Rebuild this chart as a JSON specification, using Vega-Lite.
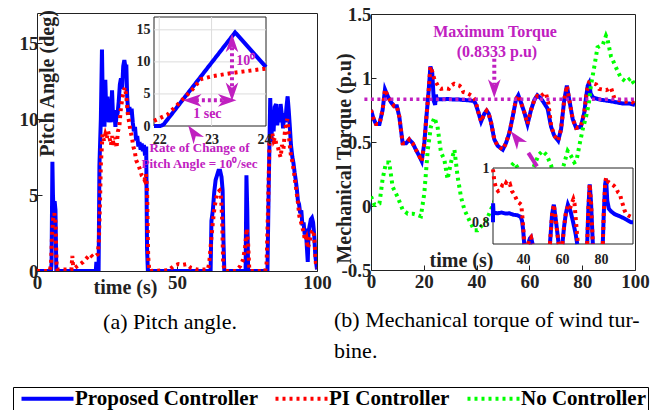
{
"$schema": "https://vega.github.io/schema/vega-lite/v6.json",
"padding": {"left": 12, "top": 4, "right": 5, "bottom": 0},
"config": {
  "font": "Liberation Serif",
  "view": {"stroke": "#222", "strokeWidth": 1},
  "axis": {"labelFont": "Liberation Serif", "labelFontWeight": "bold", "labelFontSize": 19, "labelColor": "#222", "titleFont": "Liberation Serif", "titleFontWeight": "bold", "titleFontSize": 20, "titleColor": "#222", "grid": false, "domain": false, "tickColor": "#222", "tickSize": -5, "labelFlush": false, "labelOverlap": false},
  "legend": {"orient": "none", "legendX": -24, "legendY": 374, "direction": "horizontal", "symbolType": "M-5.2,0H5.2", "symbolSize": 100, "symbolStrokeWidth": 4, "symbolOffset": 23, "labelOffset": 17, "labelFont": "Liberation Serif", "labelFontWeight": "bold", "labelFontSize": 21, "labelColor": "black", "labelLimit": 400, "strokeColor": "black", "fillColor": "white", "padding": 1, "columnPadding": 9},
  "title": {"font": "Liberation Serif", "fontSize": 22, "fontWeight": "normal", "color": "black"}
},
"datasets": {
  "pitch": [
    {"t":0,"v":0,"s":"Proposed Controller"},{"t":5,"v":0,"s":"Proposed Controller"},{"t":5.2,"v":0.5,"s":"Proposed Controller"},{"t":5.5,"v":7.2,"s":"Proposed Controller"},{"t":5.7,"v":5,"s":"Proposed Controller"},{"t":6,"v":3.5,"s":"Proposed Controller"},{"t":6.3,"v":4.6,"s":"Proposed Controller"},{"t":6.6,"v":4,"s":"Proposed Controller"},{"t":6.9,"v":0,"s":"Proposed Controller"},{"t":21,"v":0,"s":"Proposed Controller"},{"t":21.2,"v":0.6,"s":"Proposed Controller"},{"t":21.4,"v":0,"s":"Proposed Controller"},{"t":22,"v":0,"s":"Proposed Controller"},{"t":22.3,"v":7,"s":"Proposed Controller"},{"t":22.8,"v":10,"s":"Proposed Controller"},{"t":23.2,"v":14.6,"s":"Proposed Controller"},{"t":23.5,"v":11,"s":"Proposed Controller"},{"t":23.8,"v":12.5,"s":"Proposed Controller"},{"t":24.1,"v":9.5,"s":"Proposed Controller"},{"t":24.4,"v":12.6,"s":"Proposed Controller"},{"t":24.8,"v":10,"s":"Proposed Controller"},{"t":25.2,"v":11.5,"s":"Proposed Controller"},{"t":25.6,"v":9.8,"s":"Proposed Controller"},{"t":26,"v":10.5,"s":"Proposed Controller"},{"t":26.4,"v":9.8,"s":"Proposed Controller"},{"t":26.8,"v":11.9,"s":"Proposed Controller"},{"t":27.2,"v":10,"s":"Proposed Controller"},{"t":27.6,"v":10.6,"s":"Proposed Controller"},{"t":28,"v":9.5,"s":"Proposed Controller"},{"t":28.4,"v":10.2,"s":"Proposed Controller"},{"t":28.8,"v":10.4,"s":"Proposed Controller"},{"t":29.2,"v":11.2,"s":"Proposed Controller"},{"t":29.6,"v":12.3,"s":"Proposed Controller"},{"t":30,"v":12.7,"s":"Proposed Controller"},{"t":30.4,"v":12,"s":"Proposed Controller"},{"t":30.8,"v":13.5,"s":"Proposed Controller"},{"t":31.2,"v":13.9,"s":"Proposed Controller"},{"t":31.6,"v":13.4,"s":"Proposed Controller"},{"t":31.9,"v":13.6,"s":"Proposed Controller"},{"t":32.2,"v":11.5,"s":"Proposed Controller"},{"t":32.6,"v":10.4,"s":"Proposed Controller"},{"t":33,"v":10.8,"s":"Proposed Controller"},{"t":33.4,"v":10.3,"s":"Proposed Controller"},{"t":33.8,"v":10.7,"s":"Proposed Controller"},{"t":34.2,"v":9.8,"s":"Proposed Controller"},{"t":34.6,"v":9.2,"s":"Proposed Controller"},{"t":35,"v":9.5,"s":"Proposed Controller"},{"t":35.4,"v":8.6,"s":"Proposed Controller"},{"t":35.8,"v":8.9,"s":"Proposed Controller"},{"t":36.2,"v":8.2,"s":"Proposed Controller"},{"t":36.6,"v":8.5,"s":"Proposed Controller"},{"t":37,"v":8,"s":"Proposed Controller"},{"t":37.4,"v":8.4,"s":"Proposed Controller"},{"t":37.8,"v":7.9,"s":"Proposed Controller"},{"t":38.2,"v":8.3,"s":"Proposed Controller"},{"t":38.6,"v":7.6,"s":"Proposed Controller"},{"t":39,"v":8.2,"s":"Proposed Controller"},{"t":39.3,"v":1.5,"s":"Proposed Controller"},{"t":39.6,"v":0,"s":"Proposed Controller"},{"t":62,"v":0,"s":"Proposed Controller"},{"t":62.3,"v":3.3,"s":"Proposed Controller"},{"t":62.8,"v":4,"s":"Proposed Controller"},{"t":63.3,"v":5.2,"s":"Proposed Controller"},{"t":63.8,"v":6,"s":"Proposed Controller"},{"t":64.3,"v":6.3,"s":"Proposed Controller"},{"t":64.8,"v":6.6,"s":"Proposed Controller"},{"t":65.4,"v":6.6,"s":"Proposed Controller"},{"t":65.9,"v":6.2,"s":"Proposed Controller"},{"t":66.3,"v":5.3,"s":"Proposed Controller"},{"t":66.6,"v":2,"s":"Proposed Controller"},{"t":66.9,"v":0,"s":"Proposed Controller"},{"t":74.5,"v":0,"s":"Proposed Controller"},{"t":74.8,"v":6.3,"s":"Proposed Controller"},{"t":75.1,"v":4,"s":"Proposed Controller"},{"t":75.4,"v":0,"s":"Proposed Controller"},{"t":82.3,"v":0,"s":"Proposed Controller"},{"t":82.8,"v":6,"s":"Proposed Controller"},{"t":83.3,"v":11.4,"s":"Proposed Controller"},{"t":83.7,"v":8.5,"s":"Proposed Controller"},{"t":84.1,"v":10.5,"s":"Proposed Controller"},{"t":84.5,"v":9.2,"s":"Proposed Controller"},{"t":84.9,"v":10.8,"s":"Proposed Controller"},{"t":85.4,"v":11,"s":"Proposed Controller"},{"t":85.8,"v":9.6,"s":"Proposed Controller"},{"t":86.2,"v":10.3,"s":"Proposed Controller"},{"t":86.6,"v":9.8,"s":"Proposed Controller"},{"t":87,"v":11,"s":"Proposed Controller"},{"t":87.5,"v":10.2,"s":"Proposed Controller"},{"t":87.9,"v":9.4,"s":"Proposed Controller"},{"t":88.3,"v":10.4,"s":"Proposed Controller"},{"t":88.7,"v":9.8,"s":"Proposed Controller"},{"t":89.1,"v":10.8,"s":"Proposed Controller"},{"t":89.5,"v":11.5,"s":"Proposed Controller"},{"t":89.9,"v":10.6,"s":"Proposed Controller"},{"t":90.3,"v":9.5,"s":"Proposed Controller"},{"t":90.7,"v":8.3,"s":"Proposed Controller"},{"t":91.2,"v":7.5,"s":"Proposed Controller"},{"t":91.6,"v":7.1,"s":"Proposed Controller"},{"t":92,"v":6.5,"s":"Proposed Controller"},{"t":92.4,"v":6,"s":"Proposed Controller"},{"t":92.8,"v":5.4,"s":"Proposed Controller"},{"t":93.2,"v":4.6,"s":"Proposed Controller"},{"t":93.6,"v":4.4,"s":"Proposed Controller"},{"t":94,"v":3.8,"s":"Proposed Controller"},{"t":94.4,"v":4,"s":"Proposed Controller"},{"t":94.8,"v":3,"s":"Proposed Controller"},{"t":95.2,"v":3.2,"s":"Proposed Controller"},{"t":95.6,"v":2.4,"s":"Proposed Controller"},{"t":96,"v":2.8,"s":"Proposed Controller"},{"t":96.4,"v":1.5,"s":"Proposed Controller"},{"t":96.7,"v":0.6,"s":"Proposed Controller"},{"t":97,"v":2.6,"s":"Proposed Controller"},{"t":97.4,"v":3,"s":"Proposed Controller"},{"t":97.8,"v":3.4,"s":"Proposed Controller"},{"t":98.2,"v":3.5,"s":"Proposed Controller"},{"t":98.6,"v":3.2,"s":"Proposed Controller"},{"t":99,"v":2.4,"s":"Proposed Controller"},{"t":99.4,"v":1,"s":"Proposed Controller"},{"t":100,"v":0.1,"s":"Proposed Controller"},
    {"t":0,"v":0,"s":"PI Controller"},{"t":4.5,"v":0,"s":"PI Controller"},{"t":5,"v":0.4,"s":"PI Controller"},{"t":5.4,"v":2.5,"s":"PI Controller"},{"t":5.8,"v":3.5,"s":"PI Controller"},{"t":6.2,"v":3.8,"s":"PI Controller"},{"t":6.6,"v":3.2,"s":"PI Controller"},{"t":7,"v":0.5,"s":"PI Controller"},{"t":7.3,"v":0.1,"s":"PI Controller"},{"t":12.3,"v":0.1,"s":"PI Controller"},{"t":12.6,"v":1,"s":"PI Controller"},{"t":12.9,"v":0.3,"s":"PI Controller"},{"t":13.5,"v":0.2,"s":"PI Controller"},{"t":15,"v":0.4,"s":"PI Controller"},{"t":16.5,"v":0.6,"s":"PI Controller"},{"t":18,"v":0.9,"s":"PI Controller"},{"t":19,"v":1.1,"s":"PI Controller"},{"t":20,"v":0.9,"s":"PI Controller"},{"t":21,"v":1,"s":"PI Controller"},{"t":21.7,"v":1.1,"s":"PI Controller"},{"t":22.1,"v":2,"s":"PI Controller"},{"t":22.5,"v":4.5,"s":"PI Controller"},{"t":22.8,"v":7,"s":"PI Controller"},{"t":23.4,"v":9,"s":"PI Controller"},{"t":23.9,"v":8.6,"s":"PI Controller"},{"t":24.4,"v":9,"s":"PI Controller"},{"t":24.9,"v":8.7,"s":"PI Controller"},{"t":25.4,"v":9.2,"s":"PI Controller"},{"t":25.9,"v":8.8,"s":"PI Controller"},{"t":26.4,"v":8.3,"s":"PI Controller"},{"t":26.9,"v":8.9,"s":"PI Controller"},{"t":27.4,"v":8.2,"s":"PI Controller"},{"t":27.9,"v":8.8,"s":"PI Controller"},{"t":28.4,"v":8.1,"s":"PI Controller"},{"t":28.9,"v":9.2,"s":"PI Controller"},{"t":29.4,"v":9.5,"s":"PI Controller"},{"t":29.9,"v":10.6,"s":"PI Controller"},{"t":30.4,"v":11.3,"s":"PI Controller"},{"t":30.9,"v":11.8,"s":"PI Controller"},{"t":31.4,"v":12.1,"s":"PI Controller"},{"t":31.9,"v":11.5,"s":"PI Controller"},{"t":32.4,"v":10.4,"s":"PI Controller"},{"t":32.9,"v":9.8,"s":"PI Controller"},{"t":33.4,"v":9.2,"s":"PI Controller"},{"t":33.9,"v":8.8,"s":"PI Controller"},{"t":34.4,"v":8.2,"s":"PI Controller"},{"t":34.9,"v":7.9,"s":"PI Controller"},{"t":35.4,"v":7.3,"s":"PI Controller"},{"t":35.9,"v":7.1,"s":"PI Controller"},{"t":36.4,"v":6.9,"s":"PI Controller"},{"t":36.9,"v":6.6,"s":"PI Controller"},{"t":37.4,"v":6.3,"s":"PI Controller"},{"t":37.9,"v":6.2,"s":"PI Controller"},{"t":38.4,"v":6,"s":"PI Controller"},{"t":38.9,"v":6.4,"s":"PI Controller"},{"t":39.3,"v":5.5,"s":"PI Controller"},{"t":39.7,"v":1,"s":"PI Controller"},{"t":40.1,"v":0,"s":"PI Controller"},{"t":47,"v":0.05,"s":"PI Controller"},{"t":49,"v":0.35,"s":"PI Controller"},{"t":50.5,"v":0.45,"s":"PI Controller"},{"t":52,"v":0.4,"s":"PI Controller"},{"t":53.5,"v":0.45,"s":"PI Controller"},{"t":55,"v":0.2,"s":"PI Controller"},{"t":57,"v":0.1,"s":"PI Controller"},{"t":61,"v":0.1,"s":"PI Controller"},{"t":61.5,"v":0.5,"s":"PI Controller"},{"t":62.2,"v":2,"s":"PI Controller"},{"t":62.8,"v":3.2,"s":"PI Controller"},{"t":63.4,"v":4.2,"s":"PI Controller"},{"t":64,"v":4.8,"s":"PI Controller"},{"t":64.6,"v":5.2,"s":"PI Controller"},{"t":65.2,"v":5.3,"s":"PI Controller"},{"t":65.7,"v":5,"s":"PI Controller"},{"t":66.1,"v":3.5,"s":"PI Controller"},{"t":66.5,"v":0.5,"s":"PI Controller"},{"t":67,"v":0,"s":"PI Controller"},{"t":71,"v":0,"s":"PI Controller"},{"t":72.5,"v":0.3,"s":"PI Controller"},{"t":73.5,"v":0.7,"s":"PI Controller"},{"t":74.3,"v":1.5,"s":"PI Controller"},{"t":74.9,"v":2.8,"s":"PI Controller"},{"t":75.4,"v":1.8,"s":"PI Controller"},{"t":75.8,"v":0.2,"s":"PI Controller"},{"t":76.2,"v":0,"s":"PI Controller"},{"t":81.5,"v":0,"s":"PI Controller"},{"t":82,"v":0.5,"s":"PI Controller"},{"t":82.5,"v":4,"s":"PI Controller"},{"t":83,"v":8.4,"s":"PI Controller"},{"t":83.5,"v":9,"s":"PI Controller"},{"t":84,"v":9.1,"s":"PI Controller"},{"t":84.5,"v":8.6,"s":"PI Controller"},{"t":85,"v":8.8,"s":"PI Controller"},{"t":85.5,"v":8.3,"s":"PI Controller"},{"t":86,"v":8.2,"s":"PI Controller"},{"t":86.5,"v":7.8,"s":"PI Controller"},{"t":87,"v":7.5,"s":"PI Controller"},{"t":87.5,"v":8.3,"s":"PI Controller"},{"t":88,"v":8,"s":"PI Controller"},{"t":88.5,"v":9.1,"s":"PI Controller"},{"t":89,"v":9.8,"s":"PI Controller"},{"t":89.4,"v":10,"s":"PI Controller"},{"t":89.8,"v":9.3,"s":"PI Controller"},{"t":90.2,"v":8.4,"s":"PI Controller"},{"t":90.7,"v":7.6,"s":"PI Controller"},{"t":91.2,"v":7.2,"s":"PI Controller"},{"t":91.7,"v":6.6,"s":"PI Controller"},{"t":92.2,"v":5.9,"s":"PI Controller"},{"t":92.7,"v":5.2,"s":"PI Controller"},{"t":93.2,"v":4.5,"s":"PI Controller"},{"t":93.7,"v":3.6,"s":"PI Controller"},{"t":94.2,"v":3.3,"s":"PI Controller"},{"t":94.7,"v":2.9,"s":"PI Controller"},{"t":95.2,"v":2.6,"s":"PI Controller"},{"t":95.7,"v":2,"s":"PI Controller"},{"t":96.2,"v":2.2,"s":"PI Controller"},{"t":96.7,"v":1.5,"s":"PI Controller"},{"t":97.2,"v":1.8,"s":"PI Controller"},{"t":97.7,"v":2.3,"s":"PI Controller"},{"t":98.2,"v":2.6,"s":"PI Controller"},{"t":98.7,"v":2.7,"s":"PI Controller"},{"t":99.2,"v":1.8,"s":"PI Controller"},{"t":99.6,"v":0.5,"s":"PI Controller"},{"t":100,"v":0.2,"s":"PI Controller"}
  ],
  "pitchInset": [
    {"t":21.9,"v":0,"s":"Proposed Controller"},{"t":22.02,"v":0,"s":"Proposed Controller"},{"t":22.08,"v":0.2,"s":"Proposed Controller"},{"t":23.45,"v":14.6,"s":"Proposed Controller"},{"t":24.04,"v":9.2,"s":"Proposed Controller"},
    {"t":21.9,"v":0.8,"s":"PI Controller"},{"t":22.16,"v":1.8,"s":"PI Controller"},{"t":22.42,"v":3.9,"s":"PI Controller"},{"t":22.67,"v":6,"s":"PI Controller"},{"t":22.79,"v":7.3,"s":"PI Controller"},{"t":23.04,"v":7.8,"s":"PI Controller"},{"t":23.42,"v":8.3,"s":"PI Controller"},{"t":23.99,"v":8.9,"s":"PI Controller"},{"t":24.04,"v":8.95,"s":"PI Controller"}
  ],
  "torque": [
    {"t":0,"v":0.75,"s":"Proposed Controller"},{"t":1,"v":0.68,"s":"Proposed Controller"},{"t":1.9,"v":0.64,"s":"Proposed Controller"},{"t":3.2,"v":0.64,"s":"Proposed Controller"},{"t":4.4,"v":0.75,"s":"Proposed Controller"},{"t":5.3,"v":0.91,"s":"Proposed Controller"},{"t":6.3,"v":0.86,"s":"Proposed Controller"},{"t":7.6,"v":0.81,"s":"Proposed Controller"},{"t":8.8,"v":0.78,"s":"Proposed Controller"},{"t":9.8,"v":0.78,"s":"Proposed Controller"},{"t":10.7,"v":0.7,"s":"Proposed Controller"},{"t":12,"v":0.49,"s":"Proposed Controller"},{"t":13.3,"v":0.49,"s":"Proposed Controller"},{"t":14.5,"v":0.52,"s":"Proposed Controller"},{"t":15.8,"v":0.49,"s":"Proposed Controller"},{"t":17,"v":0.44,"s":"Proposed Controller"},{"t":18.3,"v":0.39,"s":"Proposed Controller"},{"t":19.2,"v":0.35,"s":"Proposed Controller"},{"t":20.2,"v":0.49,"s":"Proposed Controller"},{"t":20.8,"v":0.65,"s":"Proposed Controller"},{"t":21.8,"v":0.89,"s":"Proposed Controller"},{"t":22.5,"v":1.09,"s":"Proposed Controller"},{"t":23.2,"v":1.04,"s":"Proposed Controller"},{"t":23.8,"v":0.82,"s":"Proposed Controller"},{"t":24.3,"v":0.79,"s":"Proposed Controller"},{"t":24.6,"v":0.87,"s":"Proposed Controller"},{"t":24.9,"v":0.83,"s":"Proposed Controller"},{"t":25.5,"v":0.835,"s":"Proposed Controller"},{"t":27,"v":0.833,"s":"Proposed Controller"},{"t":29,"v":0.836,"s":"Proposed Controller"},{"t":31,"v":0.832,"s":"Proposed Controller"},{"t":33,"v":0.833,"s":"Proposed Controller"},{"t":35,"v":0.828,"s":"Proposed Controller"},{"t":37,"v":0.826,"s":"Proposed Controller"},{"t":38.8,"v":0.82,"s":"Proposed Controller"},{"t":39.5,"v":0.805,"s":"Proposed Controller"},{"t":40.4,"v":0.75,"s":"Proposed Controller"},{"t":41.7,"v":0.66,"s":"Proposed Controller"},{"t":42.9,"v":0.72,"s":"Proposed Controller"},{"t":43.8,"v":0.745,"s":"Proposed Controller"},{"t":44.6,"v":0.72,"s":"Proposed Controller"},{"t":45.5,"v":0.65,"s":"Proposed Controller"},{"t":46.7,"v":0.52,"s":"Proposed Controller"},{"t":48,"v":0.47,"s":"Proposed Controller"},{"t":49.9,"v":0.44,"s":"Proposed Controller"},{"t":51.1,"v":0.49,"s":"Proposed Controller"},{"t":52.4,"v":0.57,"s":"Proposed Controller"},{"t":53.7,"v":0.7,"s":"Proposed Controller"},{"t":54.9,"v":0.83,"s":"Proposed Controller"},{"t":55.8,"v":0.865,"s":"Proposed Controller"},{"t":56.8,"v":0.81,"s":"Proposed Controller"},{"t":58.1,"v":0.73,"s":"Proposed Controller"},{"t":59.3,"v":0.64,"s":"Proposed Controller"},{"t":60.6,"v":0.75,"s":"Proposed Controller"},{"t":61.9,"v":0.83,"s":"Proposed Controller"},{"t":63,"v":0.865,"s":"Proposed Controller"},{"t":64.4,"v":0.84,"s":"Proposed Controller"},{"t":65.7,"v":0.8,"s":"Proposed Controller"},{"t":66.9,"v":0.76,"s":"Proposed Controller"},{"t":68.2,"v":0.62,"s":"Proposed Controller"},{"t":69.4,"v":0.55,"s":"Proposed Controller"},{"t":70.9,"v":0.51,"s":"Proposed Controller"},{"t":72,"v":0.6,"s":"Proposed Controller"},{"t":73.2,"v":0.83,"s":"Proposed Controller"},{"t":74.2,"v":0.94,"s":"Proposed Controller"},{"t":75.1,"v":0.83,"s":"Proposed Controller"},{"t":76.4,"v":0.68,"s":"Proposed Controller"},{"t":77.7,"v":0.61,"s":"Proposed Controller"},{"t":79.5,"v":0.62,"s":"Proposed Controller"},{"t":80.8,"v":0.73,"s":"Proposed Controller"},{"t":81.4,"v":0.84,"s":"Proposed Controller"},{"t":82.1,"v":0.94,"s":"Proposed Controller"},{"t":82.6,"v":0.96,"s":"Proposed Controller"},{"t":83.2,"v":0.88,"s":"Proposed Controller"},{"t":84,"v":0.85,"s":"Proposed Controller"},{"t":85.2,"v":0.84,"s":"Proposed Controller"},{"t":87,"v":0.83,"s":"Proposed Controller"},{"t":90.3,"v":0.82,"s":"Proposed Controller"},{"t":93,"v":0.81,"s":"Proposed Controller"},{"t":95.5,"v":0.8,"s":"Proposed Controller"},{"t":98,"v":0.8,"s":"Proposed Controller"},{"t":100,"v":0.79,"s":"Proposed Controller"},
    {"t":0,"v":0.75,"s":"PI Controller"},{"t":1,"v":0.68,"s":"PI Controller"},{"t":1.9,"v":0.64,"s":"PI Controller"},{"t":3.2,"v":0.64,"s":"PI Controller"},{"t":4.4,"v":0.75,"s":"PI Controller"},{"t":5.3,"v":0.91,"s":"PI Controller"},{"t":6.3,"v":0.86,"s":"PI Controller"},{"t":7.6,"v":0.81,"s":"PI Controller"},{"t":8.8,"v":0.78,"s":"PI Controller"},{"t":9.8,"v":0.78,"s":"PI Controller"},{"t":10.7,"v":0.7,"s":"PI Controller"},{"t":12,"v":0.49,"s":"PI Controller"},{"t":13.3,"v":0.49,"s":"PI Controller"},{"t":14.5,"v":0.52,"s":"PI Controller"},{"t":15.8,"v":0.49,"s":"PI Controller"},{"t":17,"v":0.44,"s":"PI Controller"},{"t":18.3,"v":0.39,"s":"PI Controller"},{"t":19.2,"v":0.35,"s":"PI Controller"},{"t":20.2,"v":0.49,"s":"PI Controller"},{"t":20.8,"v":0.65,"s":"PI Controller"},{"t":21.8,"v":0.89,"s":"PI Controller"},{"t":22.5,"v":1.09,"s":"PI Controller"},{"t":23.2,"v":1.05,"s":"PI Controller"},{"t":24,"v":0.99,"s":"PI Controller"},{"t":24.8,"v":0.96,"s":"PI Controller"},{"t":25.6,"v":0.93,"s":"PI Controller"},{"t":26.5,"v":0.915,"s":"PI Controller"},{"t":28,"v":0.92,"s":"PI Controller"},{"t":29.5,"v":0.915,"s":"PI Controller"},{"t":30.3,"v":0.94,"s":"PI Controller"},{"t":31.5,"v":0.955,"s":"PI Controller"},{"t":32.5,"v":0.945,"s":"PI Controller"},{"t":33.5,"v":0.94,"s":"PI Controller"},{"t":34.3,"v":0.925,"s":"PI Controller"},{"t":35,"v":0.89,"s":"PI Controller"},{"t":36,"v":0.885,"s":"PI Controller"},{"t":37,"v":0.875,"s":"PI Controller"},{"t":38.3,"v":0.86,"s":"PI Controller"},{"t":39.1,"v":0.84,"s":"PI Controller"},{"t":39.8,"v":0.81,"s":"PI Controller"},{"t":40.4,"v":0.75,"s":"PI Controller"},{"t":41.7,"v":0.66,"s":"PI Controller"},{"t":42.9,"v":0.72,"s":"PI Controller"},{"t":43.8,"v":0.745,"s":"PI Controller"},{"t":44.6,"v":0.72,"s":"PI Controller"},{"t":45.5,"v":0.65,"s":"PI Controller"},{"t":46.7,"v":0.52,"s":"PI Controller"},{"t":48,"v":0.47,"s":"PI Controller"},{"t":49.9,"v":0.44,"s":"PI Controller"},{"t":51.1,"v":0.49,"s":"PI Controller"},{"t":52.4,"v":0.57,"s":"PI Controller"},{"t":53.7,"v":0.7,"s":"PI Controller"},{"t":54.9,"v":0.83,"s":"PI Controller"},{"t":55.8,"v":0.865,"s":"PI Controller"},{"t":56.8,"v":0.81,"s":"PI Controller"},{"t":58.1,"v":0.73,"s":"PI Controller"},{"t":59.3,"v":0.64,"s":"PI Controller"},{"t":60.6,"v":0.75,"s":"PI Controller"},{"t":61.9,"v":0.83,"s":"PI Controller"},{"t":63,"v":0.86,"s":"PI Controller"},{"t":64,"v":0.85,"s":"PI Controller"},{"t":65,"v":0.87,"s":"PI Controller"},{"t":65.8,"v":0.885,"s":"PI Controller"},{"t":66.4,"v":0.87,"s":"PI Controller"},{"t":67.2,"v":0.8,"s":"PI Controller"},{"t":68.2,"v":0.63,"s":"PI Controller"},{"t":69.4,"v":0.55,"s":"PI Controller"},{"t":70.9,"v":0.51,"s":"PI Controller"},{"t":72,"v":0.6,"s":"PI Controller"},{"t":73.2,"v":0.83,"s":"PI Controller"},{"t":74.2,"v":0.94,"s":"PI Controller"},{"t":75.1,"v":0.83,"s":"PI Controller"},{"t":76.4,"v":0.68,"s":"PI Controller"},{"t":77.7,"v":0.61,"s":"PI Controller"},{"t":79.5,"v":0.62,"s":"PI Controller"},{"t":80.8,"v":0.73,"s":"PI Controller"},{"t":81.4,"v":0.84,"s":"PI Controller"},{"t":82.1,"v":0.94,"s":"PI Controller"},{"t":82.6,"v":0.965,"s":"PI Controller"},{"t":83.5,"v":0.96,"s":"PI Controller"},{"t":84.5,"v":0.955,"s":"PI Controller"},{"t":85.3,"v":0.95,"s":"PI Controller"},{"t":86.4,"v":0.915,"s":"PI Controller"},{"t":87.8,"v":0.91,"s":"PI Controller"},{"t":89,"v":0.905,"s":"PI Controller"},{"t":89.8,"v":0.91,"s":"PI Controller"},{"t":90.9,"v":0.925,"s":"PI Controller"},{"t":91.6,"v":0.88,"s":"PI Controller"},{"t":92.2,"v":0.84,"s":"PI Controller"},{"t":93.5,"v":0.83,"s":"PI Controller"},{"t":95,"v":0.82,"s":"PI Controller"},{"t":96.5,"v":0.815,"s":"PI Controller"},{"t":98,"v":0.82,"s":"PI Controller"},{"t":99.2,"v":0.81,"s":"PI Controller"},{"t":100,"v":0.79,"s":"PI Controller"},
    {"t":0,"v":0.075,"s":"No Controller"},{"t":1.3,"v":0.01,"s":"No Controller"},{"t":3.2,"v":0.02,"s":"No Controller"},{"t":4.4,"v":0.21,"s":"No Controller"},{"t":5.7,"v":0.34,"s":"No Controller"},{"t":6.9,"v":0.34,"s":"No Controller"},{"t":8.2,"v":0.15,"s":"No Controller"},{"t":10.1,"v":0.07,"s":"No Controller"},{"t":12,"v":-0.03,"s":"No Controller"},{"t":13.9,"v":-0.06,"s":"No Controller"},{"t":15.8,"v":-0.06,"s":"No Controller"},{"t":17.7,"v":-0.07,"s":"No Controller"},{"t":18.9,"v":-0.08,"s":"No Controller"},{"t":20.2,"v":0.1,"s":"No Controller"},{"t":21.5,"v":0.44,"s":"No Controller"},{"t":22.7,"v":0.62,"s":"No Controller"},{"t":24,"v":0.69,"s":"No Controller"},{"t":25.2,"v":0.62,"s":"No Controller"},{"t":26.5,"v":0.42,"s":"No Controller"},{"t":27.8,"v":0.36,"s":"No Controller"},{"t":29,"v":0.21,"s":"No Controller"},{"t":30.3,"v":0.34,"s":"No Controller"},{"t":31.6,"v":0.44,"s":"No Controller"},{"t":32.8,"v":0.23,"s":"No Controller"},{"t":34.1,"v":0.07,"s":"No Controller"},{"t":35.4,"v":-0.03,"s":"No Controller"},{"t":37.2,"v":-0.11,"s":"No Controller"},{"t":39.1,"v":-0.19,"s":"No Controller"},{"t":40.4,"v":-0.19,"s":"No Controller"},{"t":41.7,"v":-0.16,"s":"No Controller"},{"t":43.5,"v":-0.12,"s":"No Controller"},{"t":45,"v":-0.05,"s":"No Controller"},{"t":47,"v":0.05,"s":"No Controller"},{"t":49,"v":0.17,"s":"No Controller"},{"t":51.5,"v":0.26,"s":"No Controller"},{"t":53,"v":0.31,"s":"No Controller"},{"t":54.3,"v":0.34,"s":"No Controller"},{"t":55.5,"v":0.3,"s":"No Controller"},{"t":57,"v":0.22,"s":"No Controller"},{"t":59,"v":0.2,"s":"No Controller"},{"t":60.5,"v":0.25,"s":"No Controller"},{"t":61.9,"v":0.32,"s":"No Controller"},{"t":63.5,"v":0.4,"s":"No Controller"},{"t":65,"v":0.43,"s":"No Controller"},{"t":66.5,"v":0.4,"s":"No Controller"},{"t":68.2,"v":0.32,"s":"No Controller"},{"t":69.5,"v":0.2,"s":"No Controller"},{"t":71,"v":0.2,"s":"No Controller"},{"t":73,"v":0.32,"s":"No Controller"},{"t":74.5,"v":0.43,"s":"No Controller"},{"t":75.8,"v":0.39,"s":"No Controller"},{"t":77,"v":0.34,"s":"No Controller"},{"t":77.8,"v":0.35,"s":"No Controller"},{"t":79,"v":0.48,"s":"No Controller"},{"t":80.2,"v":0.6,"s":"No Controller"},{"t":81.5,"v":0.7,"s":"No Controller"},{"t":82.5,"v":0.8,"s":"No Controller"},{"t":83.3,"v":0.94,"s":"No Controller"},{"t":84.6,"v":1.09,"s":"No Controller"},{"t":85.8,"v":1.24,"s":"No Controller"},{"t":87.8,"v":1.26,"s":"No Controller"},{"t":89,"v":1.33,"s":"No Controller"},{"t":89.6,"v":1.3,"s":"No Controller"},{"t":90.9,"v":1.17,"s":"No Controller"},{"t":92,"v":1.12,"s":"No Controller"},{"t":93.5,"v":1.05,"s":"No Controller"},{"t":94.7,"v":1,"s":"No Controller"},{"t":96.6,"v":0.97,"s":"No Controller"},{"t":98.5,"v":1,"s":"No Controller"},{"t":99.2,"v":0.97,"s":"No Controller"},{"t":100,"v":0.95,"s":"No Controller"}
  ],
  "torqueInset": [
    {"t":24.6,"v":0.8,"s":"Proposed Controller","g":"B1"},{"t":24.65,"v":0.87,"s":"Proposed Controller","g":"B1"},{"t":24.9,"v":0.83,"s":"Proposed Controller","g":"B1"},{"t":25.5,"v":0.835,"s":"Proposed Controller","g":"B1"},{"t":27,"v":0.833,"s":"Proposed Controller","g":"B1"},{"t":29,"v":0.836,"s":"Proposed Controller","g":"B1"},{"t":31,"v":0.832,"s":"Proposed Controller","g":"B1"},{"t":33,"v":0.833,"s":"Proposed Controller","g":"B1"},{"t":35,"v":0.828,"s":"Proposed Controller","g":"B1"},{"t":37,"v":0.826,"s":"Proposed Controller","g":"B1"},{"t":38.8,"v":0.82,"s":"Proposed Controller","g":"B1"},{"t":39.5,"v":0.805,"s":"Proposed Controller","g":"B1"},{"t":40.1,"v":0.77,"s":"Proposed Controller","g":"B1"},{"t":40.6,"v":0.72,"s":"Proposed Controller","g":"B1"},
    {"t":42.6,"v":0.72,"s":"Proposed Controller","g":"B2"},{"t":43.5,"v":0.74,"s":"Proposed Controller","g":"B2"},{"t":44.1,"v":0.745,"s":"Proposed Controller","g":"B2"},{"t":44.9,"v":0.72,"s":"Proposed Controller","g":"B2"},
    {"t":53.8,"v":0.72,"s":"Proposed Controller","g":"B3"},{"t":54.9,"v":0.83,"s":"Proposed Controller","g":"B3"},{"t":55.8,"v":0.865,"s":"Proposed Controller","g":"B3"},{"t":56.8,"v":0.81,"s":"Proposed Controller","g":"B3"},{"t":58.1,"v":0.73,"s":"Proposed Controller","g":"B3"},{"t":58.3,"v":0.72,"s":"Proposed Controller","g":"B3"},
    {"t":60.2,"v":0.72,"s":"Proposed Controller","g":"B4"},{"t":61,"v":0.78,"s":"Proposed Controller","g":"B4"},{"t":61.9,"v":0.83,"s":"Proposed Controller","g":"B4"},{"t":63,"v":0.865,"s":"Proposed Controller","g":"B4"},{"t":64.4,"v":0.84,"s":"Proposed Controller","g":"B4"},{"t":65.7,"v":0.8,"s":"Proposed Controller","g":"B4"},{"t":66.9,"v":0.76,"s":"Proposed Controller","g":"B4"},{"t":67.8,"v":0.72,"s":"Proposed Controller","g":"B4"},
    {"t":72.9,"v":0.72,"s":"Proposed Controller","g":"B5"},{"t":73.5,"v":0.85,"s":"Proposed Controller","g":"B5"},{"t":74.2,"v":0.94,"s":"Proposed Controller","g":"B5"},{"t":74.9,"v":0.87,"s":"Proposed Controller","g":"B5"},{"t":75.8,"v":0.72,"s":"Proposed Controller","g":"B5"},
    {"t":80.9,"v":0.72,"s":"Proposed Controller","g":"B6"},{"t":81.4,"v":0.83,"s":"Proposed Controller","g":"B6"},{"t":82.1,"v":0.94,"s":"Proposed Controller","g":"B6"},{"t":82.6,"v":0.96,"s":"Proposed Controller","g":"B6"},{"t":83.2,"v":0.88,"s":"Proposed Controller","g":"B6"},{"t":84,"v":0.85,"s":"Proposed Controller","g":"B6"},{"t":85.2,"v":0.84,"s":"Proposed Controller","g":"B6"},{"t":87,"v":0.83,"s":"Proposed Controller","g":"B6"},{"t":90.3,"v":0.82,"s":"Proposed Controller","g":"B6"},{"t":93,"v":0.81,"s":"Proposed Controller","g":"B6"},{"t":95.5,"v":0.8,"s":"Proposed Controller","g":"B6"},{"t":96.4,"v":0.8,"s":"Proposed Controller","g":"B6"},
    {"t":24.6,"v":0.995,"s":"PI Controller","g":"R1"},{"t":25.3,"v":0.95,"s":"PI Controller","g":"R1"},{"t":26.2,"v":0.925,"s":"PI Controller","g":"R1"},{"t":27.2,"v":0.915,"s":"PI Controller","g":"R1"},{"t":28.3,"v":0.92,"s":"PI Controller","g":"R1"},{"t":29.3,"v":0.935,"s":"PI Controller","g":"R1"},{"t":30.4,"v":0.93,"s":"PI Controller","g":"R1"},{"t":31.3,"v":0.945,"s":"PI Controller","g":"R1"},{"t":32.3,"v":0.935,"s":"PI Controller","g":"R1"},{"t":33.3,"v":0.94,"s":"PI Controller","g":"R1"},{"t":34.3,"v":0.915,"s":"PI Controller","g":"R1"},{"t":35.3,"v":0.905,"s":"PI Controller","g":"R1"},{"t":36.3,"v":0.89,"s":"PI Controller","g":"R1"},{"t":37.3,"v":0.875,"s":"PI Controller","g":"R1"},{"t":38.3,"v":0.87,"s":"PI Controller","g":"R1"},{"t":39.1,"v":0.865,"s":"PI Controller","g":"R1"},{"t":39.8,"v":0.81,"s":"PI Controller","g":"R1"},{"t":40.3,"v":0.76,"s":"PI Controller","g":"R1"},{"t":40.6,"v":0.72,"s":"PI Controller","g":"R1"},
    {"t":42.6,"v":0.72,"s":"PI Controller","g":"R2"},{"t":43.5,"v":0.74,"s":"PI Controller","g":"R2"},{"t":44.1,"v":0.745,"s":"PI Controller","g":"R2"},{"t":44.9,"v":0.72,"s":"PI Controller","g":"R2"},
    {"t":53.8,"v":0.72,"s":"PI Controller","g":"R3"},{"t":54.9,"v":0.83,"s":"PI Controller","g":"R3"},{"t":55.8,"v":0.865,"s":"PI Controller","g":"R3"},{"t":56.8,"v":0.81,"s":"PI Controller","g":"R3"},{"t":58.1,"v":0.73,"s":"PI Controller","g":"R3"},{"t":58.3,"v":0.72,"s":"PI Controller","g":"R3"},
    {"t":60.2,"v":0.72,"s":"PI Controller","g":"R4"},{"t":61,"v":0.78,"s":"PI Controller","g":"R4"},{"t":61.9,"v":0.83,"s":"PI Controller","g":"R4"},{"t":63,"v":0.86,"s":"PI Controller","g":"R4"},{"t":64,"v":0.85,"s":"PI Controller","g":"R4"},{"t":65,"v":0.87,"s":"PI Controller","g":"R4"},{"t":65.8,"v":0.885,"s":"PI Controller","g":"R4"},{"t":66.4,"v":0.87,"s":"PI Controller","g":"R4"},{"t":67.2,"v":0.8,"s":"PI Controller","g":"R4"},{"t":68.1,"v":0.72,"s":"PI Controller","g":"R4"},
    {"t":72.9,"v":0.72,"s":"PI Controller","g":"R5"},{"t":73.5,"v":0.85,"s":"PI Controller","g":"R5"},{"t":74.2,"v":0.94,"s":"PI Controller","g":"R5"},{"t":74.9,"v":0.87,"s":"PI Controller","g":"R5"},{"t":75.8,"v":0.72,"s":"PI Controller","g":"R5"},
    {"t":80.9,"v":0.72,"s":"PI Controller","g":"R6"},{"t":81.4,"v":0.83,"s":"PI Controller","g":"R6"},{"t":82.1,"v":0.94,"s":"PI Controller","g":"R6"},{"t":82.6,"v":0.965,"s":"PI Controller","g":"R6"},{"t":83.5,"v":0.95,"s":"PI Controller","g":"R6"},{"t":84.5,"v":0.945,"s":"PI Controller","g":"R6"},{"t":85.5,"v":0.94,"s":"PI Controller","g":"R6"},{"t":86.5,"v":0.935,"s":"PI Controller","g":"R6"},{"t":87.8,"v":0.925,"s":"PI Controller","g":"R6"},{"t":88.8,"v":0.91,"s":"PI Controller","g":"R6"},{"t":89.7,"v":0.905,"s":"PI Controller","g":"R6"},{"t":90.5,"v":0.88,"s":"PI Controller","g":"R6"},{"t":91.2,"v":0.865,"s":"PI Controller","g":"R6"},{"t":92,"v":0.845,"s":"PI Controller","g":"R6"},{"t":92.9,"v":0.83,"s":"PI Controller","g":"R6"},{"t":94,"v":0.825,"s":"PI Controller","g":"R6"},{"t":95.5,"v":0.82,"s":"PI Controller","g":"R6"},{"t":96.4,"v":0.815,"s":"PI Controller","g":"R6"}
  ]
},
"hconcat": [
  {
    "width": 280, "height": 258,
    "title": {"text": "(a) Pitch angle.", "orient": "bottom", "anchor": "middle", "frame": "group", "dx": -7, "offset": 15, "baseline": "top"},
    "resolve": {"scale": {"x": "independent", "y": "independent"}, "axis": {"x": "independent", "y": "independent"}},
    "layer": [
      {
        "data": {"name": "pitch"},
        "mark": {"type": "line", "strokeWidth": 4, "clip": true},
        "encoding": {
          "x": {"field": "t", "type": "quantitative", "scale": {"domain": [0, 100], "nice": false}, "axis": {"orient": "bottom", "values": [0, 50, 100], "labelPadding": 7, "title": "time (s)", "titleX": 88, "titleY": 16, "titleBaseline": "middle", "titleAlign": "center"}},
          "y": {"field": "v", "type": "quantitative", "scale": {"domain": [0, 17], "nice": false}, "axis": {"orient": "left", "values": [0, 5, 10, 15], "labelPadding": 4, "title": "Pitch Angle (deg)", "titleX": 10, "titleY": 70, "titleBaseline": "middle", "titleAlign": "center", "titleAngle": 270}},
          "color": {"field": "s", "type": "nominal", "scale": {"domain": ["Proposed Controller", "PI Controller", "No Controller"], "range": ["#0000ff", "#ff0000", "#00ff00"]}, "legend": {"title": null}},
          "strokeDash": {"field": "s", "type": "nominal", "scale": {"domain": ["Proposed Controller", "PI Controller", "No Controller"], "range": [[1, 0], [3, 4], [3, 4]]}, "legend": {"title": null}}
        }
      },
      {
        "layer": [
          {
            "data": {"values": [{}]},
            "mark": {"type": "rect", "fill": "white", "stroke": "#222", "strokeWidth": 1},
            "encoding": {"x": {"datum": 21.9, "type": "quantitative"}, "x2": {"datum": 24.04}, "y": {"datum": 0, "type": "quantitative"}, "y2": {"datum": 17}}
          },
          {
            "data": {"values": [{"t": 22}, {"t": 23}]},
            "mark": {"type": "rule", "color": "#dcdcdc", "strokeWidth": 1},
            "encoding": {"x": {"field": "t", "type": "quantitative"}, "y": {"datum": 0, "type": "quantitative"}, "y2": {"datum": 17}}
          },
          {
            "data": {"values": [{"v": 5}, {"v": 10}, {"v": 15}]},
            "mark": {"type": "rule", "color": "#dcdcdc", "strokeWidth": 1},
            "encoding": {"y": {"field": "v", "type": "quantitative"}, "x": {"datum": 21.9, "type": "quantitative"}, "x2": {"datum": 24.04}}
          },
          {
            "data": {"name": "pitchInset"},
            "mark": {"type": "line", "strokeWidth": 4},
            "encoding": {
              "x": {"field": "t", "type": "quantitative", "scale": {"domain": [21.9, 24.04], "range": [117, 229], "nice": false, "zero": false}, "axis": {"orient": "bottom", "offset": -145, "values": [22, 23, 24], "format": "d", "ticks": false, "labelFontSize": 14, "labelPadding": 6, "title": null, "zindex": 1}},
              "y": {"field": "v", "type": "quantitative", "scale": {"domain": [0, 17], "range": [113, 4], "nice": false, "zero": false}, "axis": {"orient": "left", "offset": -117, "values": [0, 5, 10, 15], "ticks": false, "labelFontSize": 14, "labelPadding": 4, "title": null, "zindex": 1}},
              "color": {"field": "s", "type": "nominal", "scale": {"domain": ["Proposed Controller", "PI Controller", "No Controller"], "range": ["#0000ff", "#ff0000", "#00ff00"]}, "legend": {"title": null}},
              "strokeDash": {"field": "s", "type": "nominal", "scale": {"domain": ["Proposed Controller", "PI Controller", "No Controller"], "range": [[1, 0], [3, 4], [3, 4]]}, "legend": {"title": null}}
            }
          },
          {
            "data": {"values": [{}]},
            "mark": {"type": "rule", "color": "#c020c0", "strokeWidth": 4, "strokeDash": [3, 3]},
            "encoding": {"x": {"datum": 23.39, "type": "quantitative"}, "y": {"datum": 12.3, "type": "quantitative"}, "y2": {"datum": 6.0}}
          },
          {
            "data": {"values": [{}]},
            "mark": {"type": "rule", "color": "#c020c0", "strokeWidth": 4, "strokeDash": [3, 3]},
            "encoding": {"x": {"datum": 22.7, "type": "quantitative"}, "x2": {"datum": 23.25}, "y": {"datum": 4, "type": "quantitative"}}
          },
          {
            "data": {"values": [{}]},
            "mark": {"type": "point", "shape": "M0,-1L0.65,0.9L0,0.35L-0.65,0.9Z", "filled": true, "color": "#c020c0", "opacity": 1, "size": 380, "angle": 0},
            "encoding": {"x": {"datum": 23.39, "type": "quantitative"}, "y": {"datum": 12.88, "type": "quantitative"}}
          },
          {
            "data": {"values": [{}]},
            "mark": {"type": "point", "shape": "M0,-1L0.65,0.9L0,0.35L-0.65,0.9Z", "filled": true, "color": "#c020c0", "opacity": 1, "size": 380, "angle": 180},
            "encoding": {"x": {"datum": 23.39, "type": "quantitative"}, "y": {"datum": 5.42, "type": "quantitative"}}
          },
          {
            "data": {"values": [{}]},
            "mark": {"type": "point", "shape": "M0,-1L0.65,0.9L0,0.35L-0.65,0.9Z", "filled": true, "color": "#c020c0", "opacity": 1, "size": 380, "angle": 270},
            "encoding": {"x": {"datum": 22.64, "type": "quantitative"}, "y": {"datum": 4, "type": "quantitative"}}
          },
          {
            "data": {"values": [{}]},
            "mark": {"type": "point", "shape": "M0,-1L0.65,0.9L0,0.35L-0.65,0.9Z", "filled": true, "color": "#c020c0", "opacity": 1, "size": 380, "angle": 90},
            "encoding": {"x": {"datum": 23.29, "type": "quantitative"}, "y": {"datum": 4, "type": "quantitative"}}
          },
          {
            "data": {"values": [{}]},
            "mark": {"type": "point", "shape": "M0,-1L0.65,0.9L0,0.35L-0.65,0.9Z", "filled": true, "color": "#c020c0", "opacity": 1, "size": 380, "angle": 325},
            "encoding": {"x": {"datum": 22.66, "type": "quantitative"}, "y": {"datum": -1.15, "type": "quantitative"}}
          },
          {
            "data": {"values": [{}]},
            "mark": {"type": "text", "text": "10⁰", "font": "Liberation Serif", "fontWeight": "bold", "fontSize": 14, "color": "#c020c0", "align": "left", "baseline": "middle"},
            "encoding": {"x": {"datum": 23.47, "type": "quantitative"}, "y": {"datum": 10.2, "type": "quantitative"}}
          },
          {
            "data": {"values": [{}]},
            "mark": {"type": "text", "text": "1 sec", "font": "Liberation Serif", "fontWeight": "bold", "fontSize": 14, "color": "#c020c0", "align": "center", "baseline": "middle"},
            "encoding": {"x": {"datum": 22.92, "type": "quantitative"}, "y": {"datum": 1.8, "type": "quantitative"}}
          },
          {
            "data": {"values": [{}]},
            "mark": {"type": "text", "text": ["Rate of Change of", "Pitch Angle = 10⁰/sec"], "lineHeight": 16, "font": "Liberation Serif", "fontWeight": "bold", "fontSize": 13, "color": "#c020c0", "align": "center", "baseline": "middle"},
            "encoding": {"x": {"datum": 22.77, "type": "quantitative"}, "y": {"datum": -3.44, "type": "quantitative"}}
          }
        ]
      }
    ]
  },
  {
    "width": 264, "height": 256,
    "title": {"text": ["(b) Mechanical torque of wind tur-", "bine."], "orient": "bottom", "anchor": "start", "frame": "group", "dx": -37, "offset": 19, "baseline": "top", "lineHeight": 31},
    "resolve": {"scale": {"x": "independent", "y": "independent"}, "axis": {"x": "independent", "y": "independent"}},
    "layer": [
      {
        "layer": [
          {
            "data": {"name": "torque"},
            "mark": {"type": "line", "strokeWidth": 4, "clip": true},
            "encoding": {
              "x": {"field": "t", "type": "quantitative", "scale": {"domain": [0, 100], "nice": false}, "axis": {"orient": "bottom", "values": [0, 20, 40, 60, 80, 100], "labelPadding": 7, "title": "time (s)", "titleX": 90, "titleY": -10, "titleBaseline": "middle", "titleAlign": "center"}},
              "y": {"field": "v", "type": "quantitative", "scale": {"domain": [-0.5, 1.5], "nice": false}, "axis": {"orient": "left", "values": [-0.5, 0, 0.5, 1, 1.5], "labelExpr": "datum.value < 0 ? '-' + format(-datum.value, '~g') : format(datum.value, '~g')", "labelPadding": 5, "title": "Mechanical Torque (p.u)", "titleX": -27, "titleY": 144, "titleBaseline": "middle", "titleAlign": "center", "titleAngle": 270}},
              "color": {"field": "s", "type": "nominal", "scale": {"domain": ["Proposed Controller", "PI Controller", "No Controller"], "range": ["#0000ff", "#ff0000", "#00ff00"]}, "legend": {"title": null}},
              "strokeDash": {"field": "s", "type": "nominal", "scale": {"domain": ["Proposed Controller", "PI Controller", "No Controller"], "range": [[1, 0], [3, 4], [3, 4]]}, "legend": {"title": null}}
            }
          },
          {
            "data": {"values": [{}]},
            "mark": {"type": "rule", "color": "#c020c0", "strokeWidth": 3.5, "strokeDash": [3, 3.5]},
            "encoding": {"x": {"datum": -2.5, "type": "quantitative"}, "x2": {"datum": 99.7}, "y": {"datum": 0.8333, "type": "quantitative"}}
          },
          {
            "data": {"values": [{}]},
            "mark": {"type": "rule", "color": "#c020c0", "strokeWidth": 4, "strokeDash": [3, 3]},
            "encoding": {"x": {"datum": 46.7, "type": "quantitative"}, "y": {"datum": 1.15, "type": "quantitative"}, "y2": {"datum": 0.95}}
          },
          {
            "data": {"values": [{}]},
            "mark": {"type": "point", "shape": "M0,-1L0.65,0.9L0,0.35L-0.65,0.9Z", "filled": true, "color": "#c020c0", "opacity": 1, "size": 380, "angle": 180},
            "encoding": {"x": {"datum": 46.7, "type": "quantitative"}, "y": {"datum": 0.921, "type": "quantitative"}}
          },
          {
            "data": {"values": [{}]},
            "mark": {"type": "rule", "color": "#c020c0", "strokeWidth": 4},
            "encoding": {"x": {"datum": 59.6, "type": "quantitative"}, "x2": {"datum": 62.9}, "y": {"datum": 0.415, "type": "quantitative"}, "y2": {"datum": 0.31}}
          },
          {
            "data": {"values": [{}]},
            "mark": {"type": "point", "shape": "M0,-1L0.65,0.9L0,0.35L-0.65,0.9Z", "filled": true, "color": "#c020c0", "opacity": 1, "size": 380, "angle": 323},
            "encoding": {"x": {"datum": 55.2, "type": "quantitative"}, "y": {"datum": 0.524, "type": "quantitative"}}
          },
          {
            "data": {"values": [{}]},
            "mark": {"type": "text", "text": "Maximum Torque", "font": "Liberation Serif", "fontWeight": "bold", "fontSize": 16, "color": "#c020c0", "align": "center", "baseline": "middle"},
            "encoding": {"x": {"datum": 47.0, "type": "quantitative"}, "y": {"datum": 1.356, "type": "quantitative"}}
          },
          {
            "data": {"values": [{}]},
            "mark": {"type": "text", "text": "(0.8333 p.u)", "font": "Liberation Serif", "fontWeight": "bold", "fontSize": 16, "color": "#c020c0", "align": "center", "baseline": "middle"},
            "encoding": {"x": {"datum": 47.7, "type": "quantitative"}, "y": {"datum": 1.2, "type": "quantitative"}}
          }
        ]
      },
      {
        "layer": [
          {
            "data": {"values": [{}]},
            "mark": {"type": "rect", "fill": "white", "stroke": "#222", "strokeWidth": 1},
            "encoding": {"x": {"datum": 24.6, "type": "quantitative"}, "x2": {"datum": 96.4}, "y": {"datum": 0.72, "type": "quantitative"}, "y2": {"datum": 1.0}}
          },
          {
            "data": {"name": "torqueInset"},
            "mark": {"type": "line", "strokeWidth": 4},
            "encoding": {
              "x": {"field": "t", "type": "quantitative", "scale": {"domain": [24.6, 96.4], "range": [122, 262], "nice": false, "zero": false}, "axis": {"orient": "bottom", "offset": -26, "values": [40, 60, 80], "ticks": false, "labelFontSize": 14, "labelPadding": 8, "title": null, "zindex": 1}},
              "y": {"field": "v", "type": "quantitative", "scale": {"domain": [0.72, 1.0], "range": [230, 154], "nice": false, "zero": false}, "axis": {"orient": "left", "offset": -122, "values": [0.8, 1], "format": "~g", "ticks": false, "labelFontSize": 14, "labelPadding": 4, "title": null, "zindex": 1}},
              "detail": {"field": "g", "type": "nominal"},
              "color": {"field": "s", "type": "nominal", "scale": {"domain": ["Proposed Controller", "PI Controller", "No Controller"], "range": ["#0000ff", "#ff0000", "#00ff00"]}, "legend": {"title": null}},
              "strokeDash": {"field": "s", "type": "nominal", "scale": {"domain": ["Proposed Controller", "PI Controller", "No Controller"], "range": [[1, 0], [3, 4], [3, 4]]}, "legend": {"title": null}}
            }
          }
        ]
      }
    ]
  }
],
"spacing": 54,
"bounds": "flush",
"center": true,
"resolve": {"scale": {"color": "shared", "strokeDash": "shared"}, "legend": {"color": "shared", "strokeDash": "shared"}}
}
